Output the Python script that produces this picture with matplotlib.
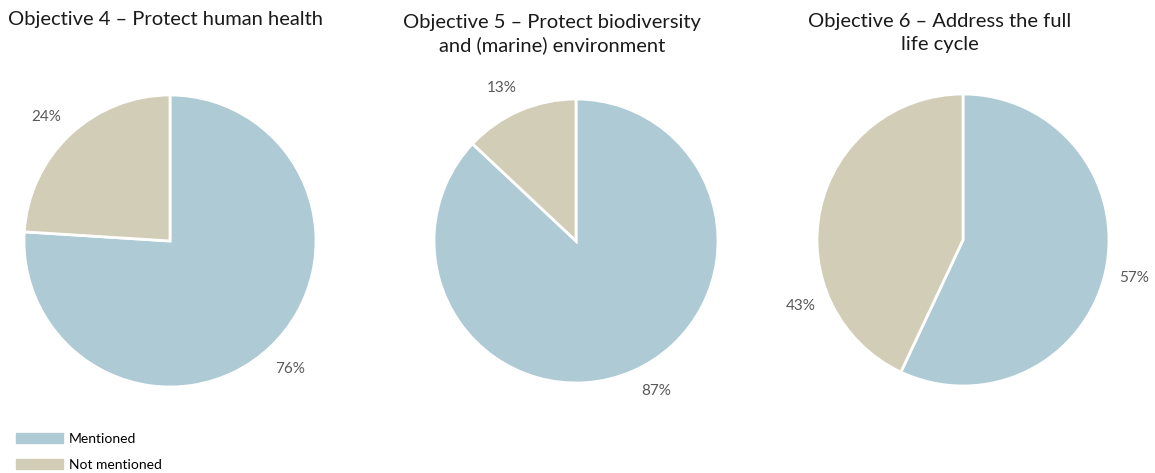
import matplotlib
matplotlib.use('Agg')
import matplotlib.pyplot as plt
import matplotlib.patches as mpatches
import numpy as np

plt.rcParams['font.family'] = ['Lato', 'DejaVu Sans']

# ── Data ────────────────────────────────────────────────────────────
categories = ['Mentioned', 'Not mentioned']
titles = [
    'Objective 4 – Protect human health',
    'Objective 5 – Protect biodiversity\nand (marine) environment',
    'Objective 6 – Address the full\nlife cycle',
]
obj4 = [76, 24]
obj5 = [87, 13]
obj6 = [57, 43]

COLORS = ['#AECAD5', '#D2CDB6']
LABEL_COLOR = '#595959'

W, H = 1155, 473
fig = plt.figure(figsize=(W / 100, H / 100), dpi=100, facecolor='white')

# pie centre (px) and radius (px)
layout = [((170, 241), 146), ((576, 241), 142), ((963, 240), 146)]
# optional label angle override (degrees) for a slice
label_override = [{1: 135}, {0: -62, 1: 116}, {1: 202}]

for vals, ((cx, cy), r), override in zip([obj4, obj5, obj6], layout, label_override):
    ax = fig.add_axes([(cx - r) / W, (H - cy - r) / H, 2 * r / W, 2 * r / H])
    wedges, _ = ax.pie(vals, colors=COLORS, startangle=90, counterclock=False,
                       wedgeprops=dict(edgecolor='white', linewidth=2))
    total = sum(vals)
    for i, (w, v) in enumerate(zip(wedges, vals)):
        ang = override.get(i, (w.theta1 + w.theta2) / 2)
        d = 1.2
        ax.text(d * np.cos(np.radians(ang)), d * np.sin(np.radians(ang)),
                f'{v / total * 100:.0f}%', ha='center', va='center',
                fontsize=11, color=LABEL_COLOR)
    ax.set_xlim(-1, 1)
    ax.set_ylim(-1, 1)
    ax.set_aspect('equal')
    ax.axis('off')

# Titles
fig.text(8 / W, 1 - 20 / H, titles[0], ha='left', va='center',
         fontsize=14.5, color='#1a1a1a')
fig.text(552 / W, 1 - 34 / H, titles[1], ha='center', va='center',
         fontsize=14.5, color='#1a1a1a', multialignment='center', linespacing=1.4)
fig.text(940 / W, 1 - 33 / H, titles[2], ha='center', va='center',
         fontsize=14.5, color='#1a1a1a', multialignment='center', linespacing=1.4)

# Legend
handles = [mpatches.Patch(color=c, label=l) for c, l in zip(COLORS, categories)]
fig.legend(handles=handles, loc='lower left', bbox_to_anchor=(9 / W, -5 / H),
           frameon=False, fontsize=10, handlelength=3.4, handleheight=0.7,
           handletextpad=0.4, labelspacing=1.0, borderaxespad=0.1)

fig.savefig('out.png', dpi=100, facecolor='white')
